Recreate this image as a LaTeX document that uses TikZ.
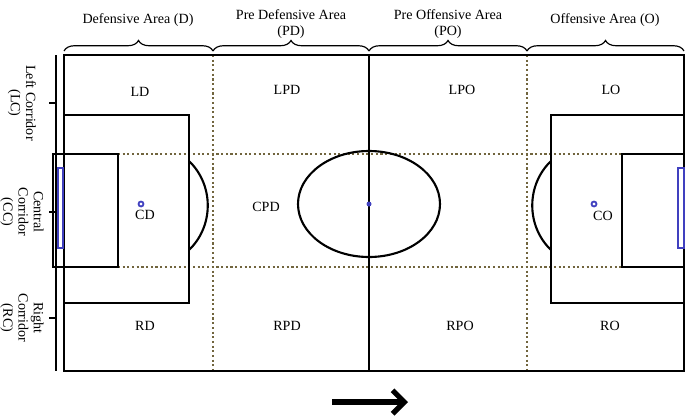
\documentclass[tikz,border=0pt]{standalone}
\usepackage{fontspec}
\setmainfont{Liberation Serif}
\usetikzlibrary{decorations.pathreplacing,arrows.meta}
\tikzset{
  zone/.style={font=\fontsize{12}{13}\selectfont},
  area/.style={font=\fontsize{12}{13}\selectfont,align=center},
  corridor/.style={font=\fontsize{12}{13}\selectfont,align=center,rotate=-90},
  grid/.style={dash pattern=on 1.8pt off 2.2pt,line width=2pt,color=black!60!olive!70!brown},
  pline/.style={line width=1.8pt},
  goal/.style={draw=blue!50!gray,line width=1.6pt,fill=white},
}
\begin{document}
\begin{tikzpicture}[x=0.03cm,y=-0.03cm]
\useasboundingbox (0,0) rectangle (685,417);
% zones grid
\draw[grid] (213,55) -- (213,371);
\draw[grid] (527,55) -- (527,371);
\draw[grid] (118,154) -- (622,154);
\draw[grid] (118,267) -- (622,267);
% field
\draw[pline] (64,55) rectangle (684,371);
\draw[pline] (56,55) -- (56,371);
\draw[pline] (369,55) -- (369,371);
\draw[pline] (369,204) ellipse (71 and 53);
\fill[blue!50!gray] (369,204) circle (2.5);
% left goal area
\draw[pline] (64,115) rectangle (189,303);
\draw[pline] (64,154) rectangle (118,267);
\draw[pline] (53,154) rectangle (64,267);
\draw[goal] (58,168) rectangle (63,248);
\draw[pline] (189,161) .. controls (214,185) and (214,226) .. (189,250);
% right goal area
\draw[pline] (551,115) rectangle (684,303);
\draw[pline] (622,154) rectangle (684,267);
\draw[goal] (678,168) rectangle (684,248);
\draw[pline] (551,161) .. controls (526,185) and (526,226) .. (551,250);
% corridor ticks
\foreach \y in {103,212,318} \draw[pline] (49,\y) -- (56,\y);
% braces
\foreach \a/\b in {64/213,213/369,369/527,527/684}
  \draw[line width=1pt,decorate,decoration={brace,amplitude=9pt}] (\a,51) -- (\b,51);
\node[area] (d) at (138,20) {Defensive Area (D)};
\node[area] (pd) at (291,24) {Pre Defensive Area\\(PD)};
\node[area] (po) at (448,24) {Pre Offensive Area\\(PO)};
\node[area] (o) at (605,20) {Offensive Area (O)};
\node[corridor] (lc) at (22,103) {Left Corridor\\(LC)};
\node[corridor] (cc) at (22,212) {Central\\Corridor\\(CC)};
\node[corridor] (rc) at (22,318) {Right\\Corridor\\(RC)};
% zones
\node[zone] (ld) at (140,92) {LD};
\node[zone] (lpd) at (287,90) {LPD};
\node[zone] (lpo) at (462,90) {LPO};
\node[zone] (lo) at (611,90) {LO};
\draw[blue!50!gray,line width=1.5pt] (141,204) circle (2.5);
\node[zone] (cd) at (145,215) {CD};
\node[zone] (cpd) at (266,207) {CPD};
\draw[blue!50!gray,line width=1.5pt] (594,204) circle (2.5);
\node[zone] (co) at (603,216) {CO};
\node[zone] (rd) at (145,326) {RD};
\node[zone] (rpd) at (287,326) {RPD};
\node[zone] (rpo) at (460,326) {RPO};
\node[zone] (ro) at (610,326) {RO};
% direction
\coordinate (s) at (332,402);
\coordinate (e) at (408,402);
\draw[line width=4.5pt,-{Straight Barb[length=10pt,width=20pt]}] (s) -- (e);
\end{tikzpicture}
\end{document}
